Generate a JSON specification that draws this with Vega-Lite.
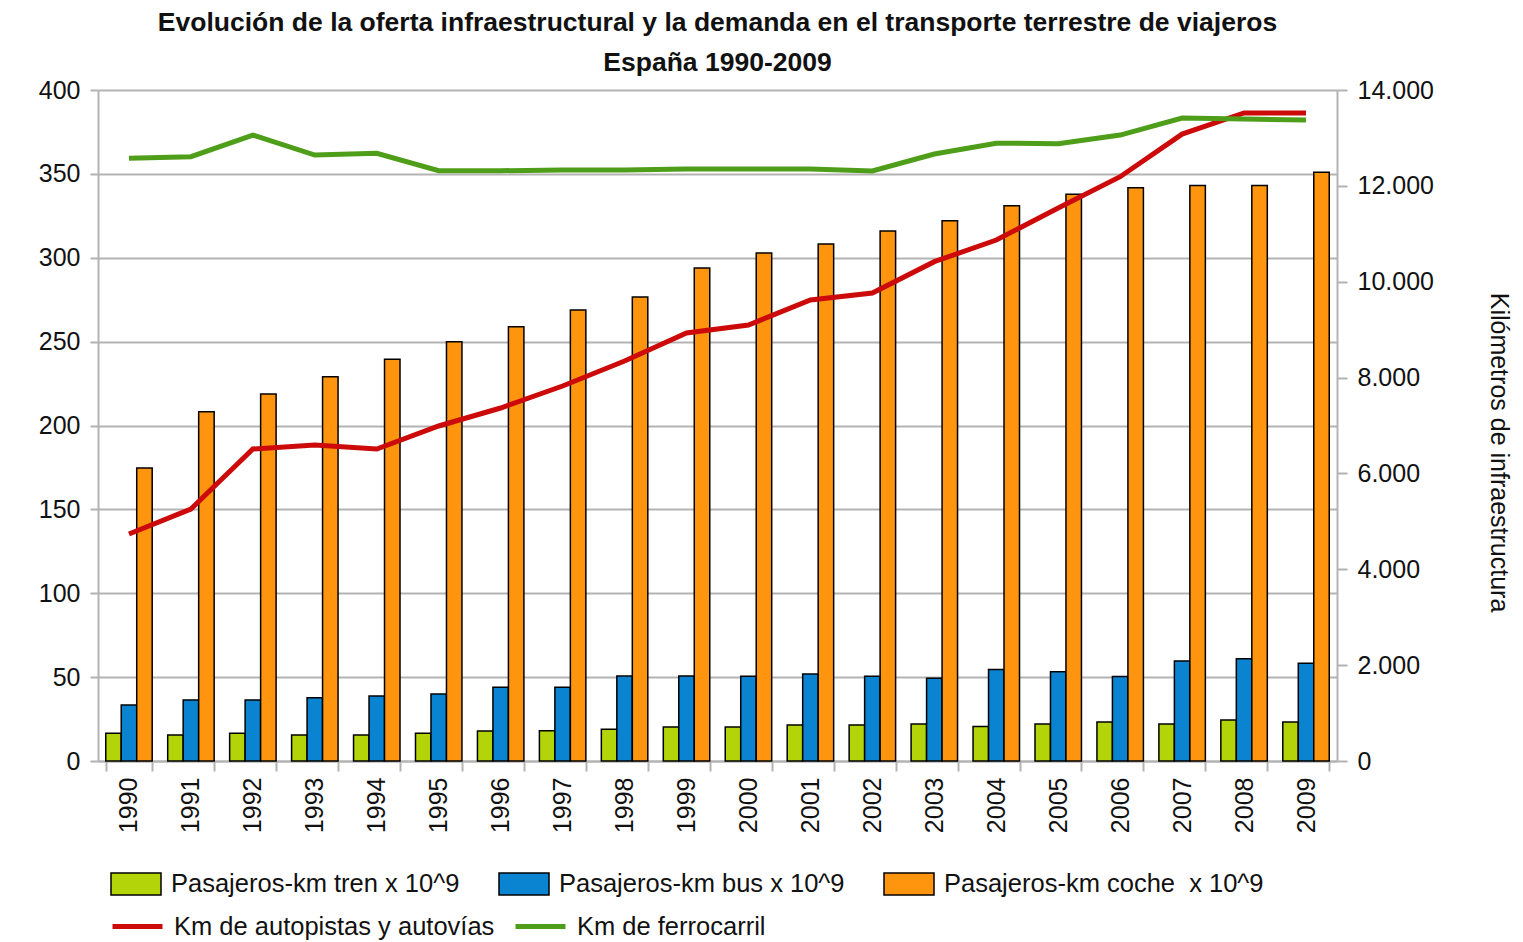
{
  "$schema": "https://vega.github.io/schema/vega-lite/v6.json",
  "width": 1239,
  "height": 671,
  "autosize": {"type": "none"},
  "padding": {"left": 98, "top": 90, "right": 186, "bottom": 181},
  "background": "white",
  "title": {
    "text": ["Evolución de la oferta infraestructural y la demanda en el transporte terrestre de viajeros", "España 1990-2009"],
    "font": "Liberation Sans",
    "fontSize": 26.5,
    "fontWeight": "bold",
    "color": "#111111",
    "lineHeight": 40,
    "offset": 2,
    "anchor": "middle"
  },
  "config": {
    "view": {"stroke": null},
    "locale": {"number": {"decimal": ",", "thousands": ".", "grouping": [3], "currency": ["", " €"]}},
    "axis": {
      "labelFont": "Liberation Sans",
      "labelFontSize": 25,
      "labelColor": "#111111",
      "titleFont": "Liberation Sans",
      "titleFontSize": 25,
      "titleFontWeight": "normal",
      "titleColor": "#111111",
      "domainColor": "#b3b3b3",
      "domainWidth": 2,
      "tickColor": "#b3b3b3",
      "tickWidth": 2,
      "gridColor": "#b3b3b3",
      "gridWidth": 2
    },
    "legend": {
      "labelFont": "Liberation Sans",
      "labelFontSize": 25.5,
      "labelColor": "#111111",
      "labelLimit": 0
    }
  },
  "datasets": {
    "bars": [
      {"year": "1990", "serie": "Pasajeros-km tren x 10^9", "value": 16.5},
      {"year": "1991", "serie": "Pasajeros-km tren x 10^9", "value": 15.5},
      {"year": "1992", "serie": "Pasajeros-km tren x 10^9", "value": 16.5},
      {"year": "1993", "serie": "Pasajeros-km tren x 10^9", "value": 15.5},
      {"year": "1994", "serie": "Pasajeros-km tren x 10^9", "value": 15.5},
      {"year": "1995", "serie": "Pasajeros-km tren x 10^9", "value": 16.5},
      {"year": "1996", "serie": "Pasajeros-km tren x 10^9", "value": 17.9},
      {"year": "1997", "serie": "Pasajeros-km tren x 10^9", "value": 18},
      {"year": "1998", "serie": "Pasajeros-km tren x 10^9", "value": 19},
      {"year": "1999", "serie": "Pasajeros-km tren x 10^9", "value": 20.3},
      {"year": "2000", "serie": "Pasajeros-km tren x 10^9", "value": 20.3},
      {"year": "2001", "serie": "Pasajeros-km tren x 10^9", "value": 21.5},
      {"year": "2002", "serie": "Pasajeros-km tren x 10^9", "value": 21.5},
      {"year": "2003", "serie": "Pasajeros-km tren x 10^9", "value": 22},
      {"year": "2004", "serie": "Pasajeros-km tren x 10^9", "value": 20.5},
      {"year": "2005", "serie": "Pasajeros-km tren x 10^9", "value": 22},
      {"year": "2006", "serie": "Pasajeros-km tren x 10^9", "value": 23.2},
      {"year": "2007", "serie": "Pasajeros-km tren x 10^9", "value": 22},
      {"year": "2008", "serie": "Pasajeros-km tren x 10^9", "value": 24.4},
      {"year": "2009", "serie": "Pasajeros-km tren x 10^9", "value": 23.2},
      {"year": "1990", "serie": "Pasajeros-km bus x 10^9", "value": 33.4},
      {"year": "1991", "serie": "Pasajeros-km bus x 10^9", "value": 36.4},
      {"year": "1992", "serie": "Pasajeros-km bus x 10^9", "value": 36.4},
      {"year": "1993", "serie": "Pasajeros-km bus x 10^9", "value": 37.7},
      {"year": "1994", "serie": "Pasajeros-km bus x 10^9", "value": 38.7},
      {"year": "1995", "serie": "Pasajeros-km bus x 10^9", "value": 39.9},
      {"year": "1996", "serie": "Pasajeros-km bus x 10^9", "value": 43.9},
      {"year": "1997", "serie": "Pasajeros-km bus x 10^9", "value": 44},
      {"year": "1998", "serie": "Pasajeros-km bus x 10^9", "value": 50.7},
      {"year": "1999", "serie": "Pasajeros-km bus x 10^9", "value": 50.7},
      {"year": "2000", "serie": "Pasajeros-km bus x 10^9", "value": 50.5},
      {"year": "2001", "serie": "Pasajeros-km bus x 10^9", "value": 51.9},
      {"year": "2002", "serie": "Pasajeros-km bus x 10^9", "value": 50.5},
      {"year": "2003", "serie": "Pasajeros-km bus x 10^9", "value": 49.3},
      {"year": "2004", "serie": "Pasajeros-km bus x 10^9", "value": 54.6},
      {"year": "2005", "serie": "Pasajeros-km bus x 10^9", "value": 53.2},
      {"year": "2006", "serie": "Pasajeros-km bus x 10^9", "value": 50.3},
      {"year": "2007", "serie": "Pasajeros-km bus x 10^9", "value": 59.6},
      {"year": "2008", "serie": "Pasajeros-km bus x 10^9", "value": 61},
      {"year": "2009", "serie": "Pasajeros-km bus x 10^9", "value": 58.2},
      {"year": "1990", "serie": "Pasajeros-km coche  x 10^9", "value": 174.7},
      {"year": "1991", "serie": "Pasajeros-km coche  x 10^9", "value": 208.2},
      {"year": "1992", "serie": "Pasajeros-km coche  x 10^9", "value": 218.8},
      {"year": "1993", "serie": "Pasajeros-km coche  x 10^9", "value": 229.1},
      {"year": "1994", "serie": "Pasajeros-km coche  x 10^9", "value": 239.5},
      {"year": "1995", "serie": "Pasajeros-km coche  x 10^9", "value": 250},
      {"year": "1996", "serie": "Pasajeros-km coche  x 10^9", "value": 258.9},
      {"year": "1997", "serie": "Pasajeros-km coche  x 10^9", "value": 268.9},
      {"year": "1998", "serie": "Pasajeros-km coche  x 10^9", "value": 276.6},
      {"year": "1999", "serie": "Pasajeros-km coche  x 10^9", "value": 293.9},
      {"year": "2000", "serie": "Pasajeros-km coche  x 10^9", "value": 302.8},
      {"year": "2001", "serie": "Pasajeros-km coche  x 10^9", "value": 308.2},
      {"year": "2002", "serie": "Pasajeros-km coche  x 10^9", "value": 316},
      {"year": "2003", "serie": "Pasajeros-km coche  x 10^9", "value": 322},
      {"year": "2004", "serie": "Pasajeros-km coche  x 10^9", "value": 331},
      {"year": "2005", "serie": "Pasajeros-km coche  x 10^9", "value": 337.8},
      {"year": "2006", "serie": "Pasajeros-km coche  x 10^9", "value": 341.8},
      {"year": "2007", "serie": "Pasajeros-km coche  x 10^9", "value": 343},
      {"year": "2008", "serie": "Pasajeros-km coche  x 10^9", "value": 343},
      {"year": "2009", "serie": "Pasajeros-km coche  x 10^9", "value": 351}
    ],
    "lines": [
      {"year": "1990", "serie": "Km de autopistas y autovías", "km": 4736},
      {"year": "1991", "serie": "Km de autopistas y autovías", "km": 5258},
      {"year": "1992", "serie": "Km de autopistas y autovías", "km": 6510},
      {"year": "1993", "serie": "Km de autopistas y autovías", "km": 6593},
      {"year": "1994", "serie": "Km de autopistas y autovías", "km": 6510},
      {"year": "1995", "serie": "Km de autopistas y autovías", "km": 6990},
      {"year": "1996", "serie": "Km de autopistas y autovías", "km": 7365},
      {"year": "1997", "serie": "Km de autopistas y autovías", "km": 7824},
      {"year": "1998", "serie": "Km de autopistas y autovías", "km": 8346},
      {"year": "1999", "serie": "Km de autopistas y autovías", "km": 8930},
      {"year": "2000", "serie": "Km de autopistas y autovías", "km": 9097},
      {"year": "2001", "serie": "Km de autopistas y autovías", "km": 9618},
      {"year": "2002", "serie": "Km de autopistas y autovías", "km": 9764},
      {"year": "2003", "serie": "Km de autopistas y autovías", "km": 10418},
      {"year": "2004", "serie": "Km de autopistas y autovías", "km": 10870},
      {"year": "2005", "serie": "Km de autopistas y autovías", "km": 11538},
      {"year": "2006", "serie": "Km de autopistas y autovías", "km": 12191},
      {"year": "2007", "serie": "Km de autopistas y autovías", "km": 13080},
      {"year": "2008", "serie": "Km de autopistas y autovías", "km": 13520},
      {"year": "2009", "serie": "Km de autopistas y autovías", "km": 13520},
      {"year": "1990", "serie": "Km de ferrocarril", "km": 12575},
      {"year": "1991", "serie": "Km de ferrocarril", "km": 12608},
      {"year": "1992", "serie": "Km de ferrocarril", "km": 13060},
      {"year": "1993", "serie": "Km de ferrocarril", "km": 12643},
      {"year": "1994", "serie": "Km de ferrocarril", "km": 12678},
      {"year": "1995", "serie": "Km de ferrocarril", "km": 12316},
      {"year": "1996", "serie": "Km de ferrocarril", "km": 12316},
      {"year": "1997", "serie": "Km de ferrocarril", "km": 12330},
      {"year": "1998", "serie": "Km de ferrocarril", "km": 12330},
      {"year": "1999", "serie": "Km de ferrocarril", "km": 12351},
      {"year": "2000", "serie": "Km de ferrocarril", "km": 12351},
      {"year": "2001", "serie": "Km de ferrocarril", "km": 12351},
      {"year": "2002", "serie": "Km de ferrocarril", "km": 12310},
      {"year": "2003", "serie": "Km de ferrocarril", "km": 12664},
      {"year": "2004", "serie": "Km de ferrocarril", "km": 12890},
      {"year": "2005", "serie": "Km de ferrocarril", "km": 12880},
      {"year": "2006", "serie": "Km de ferrocarril", "km": 13060},
      {"year": "2007", "serie": "Km de ferrocarril", "km": 13415},
      {"year": "2008", "serie": "Km de ferrocarril", "km": 13394},
      {"year": "2009", "serie": "Km de ferrocarril", "km": 13373}
    ]
  },
  "layer": [
    {
      "data": {"name": "bars"},
      "mark": {"type": "bar", "stroke": "black", "strokeWidth": 1.5},
      "encoding": {
        "x": {
          "field": "year", "type": "ordinal",
          "scale": {"paddingInner": 0.25, "paddingOuter": 0.125},
          "axis": {
            "title": null, "labelAngle": -90, "labelAlign": "right", "labelBaseline": "middle",
            "tickBand": "extent", "tickSize": 10, "labelPadding": 6, "grid": false, "domain": true
          }
        },
        "xOffset": {
          "field": "serie", "type": "nominal",
          "sort": ["Pasajeros-km tren x 10^9", "Pasajeros-km bus x 10^9", "Pasajeros-km coche  x 10^9"],
          "scale": {"paddingInner": 0, "paddingOuter": 0}
        },
        "y": {
          "field": "value", "type": "quantitative",
          "scale": {"domain": [0, 400], "nice": false},
          "axis": {
            "title": null, "values": [0, 50, 100, 150, 200, 250, 300, 350, 400],
            "grid": true, "tickSize": 8, "labelPadding": 10, "domain": true
          }
        },
        "fill": {
          "field": "serie", "type": "nominal",
          "scale": {
            "domain": ["Pasajeros-km tren x 10^9", "Pasajeros-km bus x 10^9", "Pasajeros-km coche  x 10^9"],
            "range": ["#b4d40a", "#0a84d0", "#ff950e"]
          },
          "legend": {
            "title": null, "orient": "none", "direction": "horizontal", "columns": 3,
            "legendX": 12, "legendY": 768, "padding": 0,
            "symbolType": "M-1,-0.44H1V0.44H-1Z", "symbolSize": 2500,
            "symbolStrokeColor": "black", "symbolStrokeWidth": 1.5,
            "labelOffset": 9, "columnPadding": 36,
            "labelExpr": "replace(datum.label, '  ', '\u00a0 ')"
          }
        }
      }
    },
    {
      "data": {"name": "lines"},
      "mark": {"type": "line", "strokeWidth": 5},
      "encoding": {
        "x": {"field": "year", "type": "ordinal"},
        "y": {
          "field": "km", "type": "quantitative",
          "scale": {"domain": [0, 14000], "nice": false},
          "axis": {
            "orient": "right", "title": "Kilómetros de infraestructura",
            "values": [0, 2000, 4000, 6000, 8000, 10000, 12000, 14000],
            "format": ",d", "grid": false, "tickSize": 10, "labelPadding": 10,
            "titlePadding": 52, "titleY": 362, "domain": true
          }
        },
        "stroke": {
          "field": "serie", "type": "nominal",
          "scale": {
            "domain": ["Km de autopistas y autovías", "Km de ferrocarril"],
            "range": ["#cc0a0a", "#4f9e1a"]
          },
          "legend": {
            "title": null, "orient": "none", "direction": "horizontal", "columns": 2,
            "legendX": 12, "legendY": 809, "padding": 0,
            "symbolType": "M-1,0H1", "symbolSize": 2500, "symbolStrokeWidth": 5,
            "labelOffset": 9, "columnPadding": 10
          }
        }
      }
    }
  ],
  "resolve": {"scale": {"y": "independent", "fill": "independent", "stroke": "independent"}}
}
